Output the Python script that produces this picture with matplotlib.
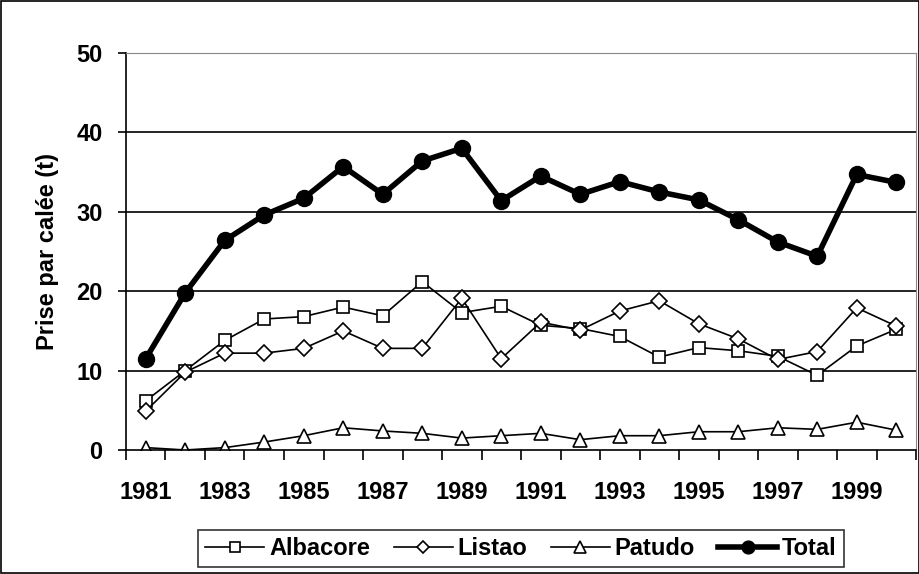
import matplotlib.pyplot as plt
import numpy as np

plt.rcParams['font.family'] = ['Liberation Sans', 'DejaVu Sans']
plt.rcParams['font.weight'] = 'bold'

annees = list(range(1981, 2001))
albacore = [6.2, 10.0, 13.8, 16.5, 16.8, 18.0, 16.9, 21.2, 17.3, 18.1,
            15.7, 15.3, 14.3, 11.7, 12.9, 12.5, 11.8, 9.4, 13.1, 15.2]
listao = [4.9, 9.8, 12.2, 12.2, 12.8, 15.0, 12.8, 12.8, 19.1, 11.5,
          16.1, 15.1, 17.5, 18.8, 15.9, 14.0, 11.4, 12.4, 17.9, 15.6]
patudo = [0.3, 0.0, 0.3, 1.0, 1.8, 2.8, 2.4, 2.1, 1.5, 1.8,
          2.1, 1.3, 1.8, 1.8, 2.3, 2.3, 2.8, 2.6, 3.5, 2.5]
total = [11.5, 19.8, 26.4, 29.6, 31.7, 35.7, 32.2, 36.4, 38.0, 31.4,
         34.5, 32.2, 33.8, 32.5, 31.5, 29.0, 26.2, 24.4, 34.7, 33.7]

fig = plt.figure(figsize=(9.2, 5.74), dpi=100)
fig.patches.append(plt.Rectangle((0.001, 0.001), 0.998, 0.998, transform=fig.transFigure,
                                 fill=False, edgecolor='black', linewidth=1.2))
ax = fig.add_axes([126 / 920, 1 - 450 / 574, 790 / 920, 397 / 574])

x = np.arange(len(annees))
ax.plot(x, albacore, color='black', lw=1.2, marker='s', ms=9, mfc='white', mec='black', mew=1.2, label='Albacore')
ax.plot(x, listao, color='black', lw=1.2, marker='D', ms=8, mfc='white', mec='black', mew=1.2, label='Listao')
ax.plot(x, patudo, color='black', lw=1.2, marker='^', ms=10, mfc='white', mec='black', mew=1.2, label='Patudo')
ax.plot(x, total, color='black', lw=4, marker='o', ms=11.5, mfc='black', mec='black', label='Total')

ax.set_xlim(-0.5, len(annees) - 0.5)
ax.set_ylim(0, 50)
ax.set_yticks(range(0, 51, 10))
for v in range(10, 50, 10):
    ax.axhline(v, color='black', lw=1.2, zorder=0)

ax.set_xticks(np.arange(-0.5, len(annees), 1))
ax.set_xticklabels([])
ax.set_xticks(x[::2], minor=True)
ax.set_xticklabels([str(a) for a in annees[::2]], minor=True)
ax.tick_params(axis='x', which='major', length=7, width=1.2, direction='out')
ax.tick_params(axis='x', which='minor', length=0, pad=22, labelsize=17)
ax.tick_params(axis='y', length=6, width=1.2, labelsize=17, pad=11)

ax.spines['left'].set_linewidth(1.2)
ax.spines['bottom'].set_linewidth(1.2)
ax.spines['top'].set_color('#888888')
ax.spines['right'].set_color('#888888')

ax.set_ylabel('Prise par calée (t)', fontsize=17, fontweight='bold', labelpad=12)

leg = ax.legend(loc='upper center', bbox_to_anchor=(0.5, -80 / 397), ncol=4,
                frameon=True, fancybox=False, edgecolor='black', fontsize=17,
                handlelength=2.5, columnspacing=1.0, handletextpad=0.2,
                borderpad=0.3, markerscale=0.8, borderaxespad=0)
leg.get_frame().set_linewidth(1.2)

fig.savefig('out.png', dpi=100)
